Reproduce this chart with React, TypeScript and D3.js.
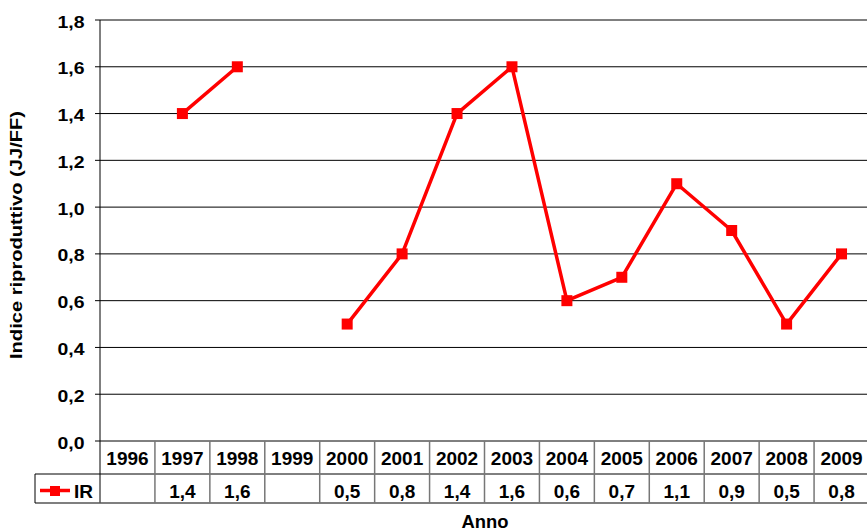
import React from "react";
import * as d3 from "d3";

const years = ["1996","1997","1998","1999","2000","2001","2002","2003","2004","2005","2006","2007","2008","2009"];
const irValues: (number | null)[] = [null, 1.4, 1.6, null, 0.5, 0.8, 1.4, 1.6, 0.6, 0.7, 1.1, 0.9, 0.5, 0.8];
const yTicks = [0, 0.2, 0.4, 0.6, 0.8, 1.0, 1.2, 1.4, 1.6, 1.8];
const seriesName = "IR";
const yTitle = "Indice riproduttivo (JJ/FF)";
const xTitle = "Anno";

const W = 867, H = 531;
const left = 100, right = 869, top = 20, bottom = 441;
const row1 = 474, row2 = 503;
const font = "'Liberation Sans', Arial, sans-serif";
const fmt = (v: number) => v.toFixed(1).replace(".", ",");

export default function App() {
  const x = d3.scaleBand<string>().domain(years).range([left, right]);
  const y = d3.scaleLinear().domain([0, 1.8]).range([bottom, top]);
  const line = d3.line<number | null>()
    .defined(d => d !== null)
    .x((_, i) => (x(years[i]) as number) + x.bandwidth() / 2)
    .y(d => y(d as number));
  const bw = x.bandwidth();
  return (
    <svg width={W} height={H} style={{ position: "absolute", left: 0, top: 0 }} fontFamily={font} fontWeight="bold">
      <rect width={W} height={H} fill="#fff" />
      {yTicks.map(t => (
        <g key={t}>
          <line x1={left} x2={right} y1={y(t)} y2={y(t)} stroke="#000" strokeWidth={1} />
          <line x1={left - 5} x2={left} y1={y(t)} y2={y(t)} stroke="#000" strokeWidth={1} />
          <text x={57.5} y={y(t) + 7.5} fontSize={16.5} textLength={27} lengthAdjust="spacingAndGlyphs">{fmt(t)}</text>
        </g>
      ))}
      <line x1={left} x2={left} y1={top} y2={row2} stroke="#000" strokeWidth={1} />
      {/* table */}
      <line x1={35} x2={right} y1={row1} y2={row1} stroke="#000" strokeWidth={1} />
      <line x1={35} x2={right} y1={row2} y2={row2} stroke="#555" strokeWidth={1.5} />
      <line x1={35} x2={35} y1={row1} y2={row2} stroke="#000" strokeWidth={1} />
      {years.map((yr, i) => (
        <g key={yr}>
          {i > 0 && <line x1={x(yr)} x2={x(yr)} y1={bottom} y2={row2} stroke="#777" strokeWidth={1.5} />}
          <text x={(x(yr) as number) + bw / 2} y={464.5} textAnchor="middle" fontSize={19}>{yr}</text>
          {irValues[i] !== null && (
            <text x={(x(yr) as number) + bw / 2} y={498} textAnchor="middle" fontSize={19}>{fmt(irValues[i] as number)}</text>
          )}
        </g>
      ))}
      <line x1={40} x2={70} y1={490.5} y2={490.5} stroke="#f00" strokeWidth={3.5} />
      <rect x={50} y={486} width={10} height={10} fill="#f00" />
      <text x={74} y={498} fontSize={19}>{seriesName}</text>
      <path d={line(irValues) || ""} fill="none" stroke="#f00" strokeWidth={3.5} strokeLinejoin="round" />
      {irValues.map((v, i) => v === null ? null : (
        <rect key={i} x={(x(years[i]) as number) + bw / 2 - 5.5} y={y(v) - 5.5} width={11} height={11} fill="#f00" />
      ))}
      <text transform={`translate(22,235) rotate(-90)`} textAnchor="middle" fontSize={16} textLength={248} lengthAdjust="spacingAndGlyphs">{yTitle}</text>
      <text x={461.5} y={528} fontSize={18} textLength={47} lengthAdjust="spacingAndGlyphs">{xTitle}</text>
    </svg>
  );
}
